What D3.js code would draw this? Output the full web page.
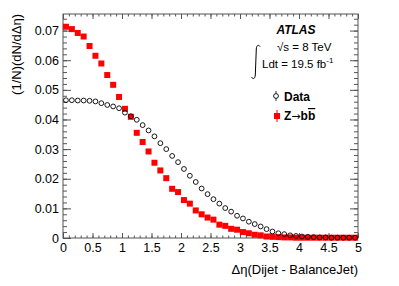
<!DOCTYPE html>
<html>

<head>
    <meta charset="utf-8">
    <style>
        body {
            margin: 0;
            background: #fff;
        }

        svg {
            font-family: 'Liberation Sans', Arial, sans-serif;
        }

        .tick text {
            font-size: 12.5px;
            fill: #000;
        }

        .tick line {
            stroke: #555;
        }

        .domain {
            display: none;
        }

        .axis-title {
            font-size: 13px;
        }
    </style>
</head>

<body>
    <svg width="399" height="286"></svg>

    <script src="https://d3js.org/d3.v7.min.js"></script>
    <script>
        // bin centres of delta eta (bin width 0.1)
        let binCenters = [
            0.05, 0.15, 0.25, 0.35, 0.45, 0.55, 0.65, 0.75, 0.85, 0.95,
            1.05, 1.15, 1.25, 1.35, 1.45, 1.55, 1.65, 1.75, 1.85, 1.95,
            2.05, 2.15, 2.25, 2.35, 2.45, 2.55, 2.65, 2.75, 2.85, 2.95,
            3.05, 3.15, 3.25, 3.35, 3.45, 3.55, 3.65, 3.75, 3.85, 3.95,
            4.05, 4.15, 4.25, 4.35, 4.45, 4.55, 4.65, 4.75, 4.85, 4.95]

        let dataValues = [
            0.0465, 0.0465, 0.0464, 0.0464, 0.0463, 0.0461, 0.0455, 0.0449, 0.0444, 0.0438,
            0.0423, 0.0411, 0.0399, 0.0381, 0.0363, 0.0343, 0.0320, 0.0300, 0.0277, 0.0256,
            0.0233, 0.0210, 0.0189, 0.0167, 0.0148, 0.0131, 0.0116, 0.0101, 0.0089, 0.0075,
            0.0066, 0.0055, 0.0047, 0.0039, 0.0030, 0.0022, 0.0016, 0.0013, 0.0009, 0.0007,
            0.0005, 0.0004, 0.0003, 0.0002, 0.0002, 0.0001, 0.0001, 0.0001, 0.0001, 0.0001]

        let zbbValues = [
            0.0713, 0.0705, 0.0692, 0.0680, 0.0648, 0.0615, 0.0589, 0.0550, 0.0517, 0.0476,
            0.0436, 0.0409, 0.0355, 0.0324, 0.0292, 0.0254, 0.0228, 0.0202, 0.0166, 0.0155,
            0.0128, 0.0116, 0.0093, 0.0080, 0.0069, 0.0062, 0.0045, 0.0041, 0.0031, 0.0028,
            0.0020, 0.0016, 0.0011, 0.0009, 0.0005, 0.0004, 0.0003, 0.0002, 0.0002, 0.0001,
            0.0001, 0.0001, 0.0001, 0.0001, 0.0001, 0.0001, 0.0001, 0.0001, 0.0001, 0.0001]

        let xTicks = [0, 0.5, 1, 1.5, 2, 2.5, 3, 3.5, 4, 4.5, 5]
        let yTicks = [0, 0.01, 0.02, 0.03, 0.04, 0.05, 0.06, 0.07]

        let margin = { top: 14, right: 41, bottom: 48, left: 63 }
        let width = 399
        let height = 286

        let svg = d3.select("svg")

        let x = d3.scaleLinear()
            .domain([0, 5])
            .range([margin.left, width - margin.right])

        let y = d3.scaleLinear()
            .domain([0, 0.0756])
            .range([height - margin.bottom, margin.top])

        let minorX = d3.range(0, 51).map(i => i / 10)
        let minorY = d3.range(0, 38).map(i => i * 0.002)

        // ticks pointing inwards on all four sides, ROOT style
        svg.append("g")
            .attr("class", "x axis")
            .attr("transform", `translate(0,${y(0)})`)
            .call(d3.axisBottom(x).tickValues(minorX).tickSize(-2.5).tickFormat(""))
        svg.append("g")
            .attr("class", "x axis")
            .attr("transform", `translate(0,${y(0)})`)
            .call(d3.axisBottom(x).tickValues(xTicks).tickSize(-5).tickPadding(5)
                .tickFormat(d3.format("")))

        svg.append("g")
            .attr("transform", `translate(0,${margin.top})`)
            .call(d3.axisTop(x).tickValues(minorX).tickSize(-2.5).tickFormat(""))
        svg.append("g")
            .attr("transform", `translate(0,${margin.top})`)
            .call(d3.axisTop(x).tickValues(xTicks).tickSize(-5).tickFormat(""))

        svg.append("g")
            .attr("class", "y axis")
            .attr("transform", `translate(${margin.left},0)`)
            .call(d3.axisLeft(y).tickValues(minorY).tickSize(-4).tickFormat(""))
        svg.append("g")
            .attr("class", "y axis")
            .attr("transform", `translate(${margin.left},0)`)
            .call(d3.axisLeft(y).tickValues(yTicks).tickSize(-8).tickPadding(4)
                .tickFormat(d => d == 0 ? "0" : d3.format(".2f")(d)))

        svg.append("g")
            .attr("transform", `translate(${width - margin.right},0)`)
            .call(d3.axisRight(y).tickValues(minorY).tickSize(-4).tickFormat(""))
        svg.append("g")
            .attr("transform", `translate(${width - margin.right},0)`)
            .call(d3.axisRight(y).tickValues(yTicks).tickSize(-8).tickFormat(""))

        // frame
        svg.append("rect")
            .attr("x", x(0))
            .attr("y", y(0.0756))
            .attr("width", x(5) - x(0))
            .attr("height", y(0) - y(0.0756))
            .attr("fill", "none")
            .attr("stroke", "#555")
            .attr("stroke-width", 1)

        // Z->bb squares first, data circles on top
        svg.append("g")
            .selectAll("rect")
            .data(binCenters)
            .join("rect")
            .attr("x", (d, i) => x(d) - 3)
            .attr("y", (d, i) => y(zbbValues[i]) - 3)
            .attr("width", 6)
            .attr("height", 6)
            .attr("fill", "#ff0000")

        svg.append("g")
            .selectAll("circle")
            .data(binCenters)
            .join("circle")
            .attr("cx", d => x(d))
            .attr("cy", (d, i) => y(dataValues[i]))
            .attr("r", 2.4)
            .attr("fill", "none")
            .attr("stroke", "#000")
            .attr("stroke-width", 0.9)

        // axis titles
        svg.append("text")
            .attr("class", "axis-title")
            .attr("x", x(5))
            .attr("y", 274)
            .attr("text-anchor", "end")
            .text("Δη(Dijet - BalanceJet)")

        svg.append("text")
            .attr("class", "axis-title")
            .attr("transform", `translate(21,${margin.top}) rotate(-90)`)
            .attr("text-anchor", "end")
            .text("(1/N)(dN/dΔη)")

        // ATLAS label
        svg.append("text")
            .attr("x", 296)
            .attr("y", 34)
            .attr("text-anchor", "middle")
            .style("font-size", "12px")
            .style("font-weight", "bold")
            .style("font-style", "italic")
            .text("ATLAS")

        svg.append("text")
            .attr("x", 277)
            .attr("y", 51)
            .style("font-size", "11.5px")
            .text("√s = 8 TeV")

        // thin integral sign, drawn like ROOT's TLatex one
        svg.append("path")
            .attr("d", "M260,46.5 C258.5,44.5 256.5,45 256.3,49 L255.3,75 C255,79 253,79.5 251.5,77")
            .attr("fill", "none")
            .attr("stroke", "#000")
            .attr("stroke-width", 1)

        let lumi = svg.append("text")
            .attr("x", 262)
            .attr("y", 68)
            .style("font-size", "11.5px")
        lumi.append("tspan").text("Ldt = 19.5 fb")
        lumi.append("tspan").attr("dy", -5).style("font-size", "8px").text("-1")

        // legend
        svg.append("line")
            .attr("x1", 276).attr("x2", 276)
            .attr("y1", 91).attr("y2", 101)
            .attr("stroke", "#000")
            .attr("stroke-width", 0.8)
        svg.append("circle")
            .attr("cx", 276).attr("cy", 96)
            .attr("r", 2.4)
            .attr("fill", "#fff")
            .attr("stroke", "#000")
            .attr("stroke-width", 0.9)
        svg.append("text")
            .attr("x", 284)
            .attr("y", 100.5)
            .style("font-size", "12px")
            .style("font-weight", "bold")
            .text("Data")

        svg.append("line")
            .attr("x1", 277).attr("x2", 277)
            .attr("y1", 110).attr("y2", 122)
            .attr("stroke", "#ff0000")
            .attr("stroke-width", 1)
        svg.append("rect")
            .attr("x", 274).attr("y", 113)
            .attr("width", 6).attr("height", 6)
            .attr("fill", "#ff0000")

        let zLabel = svg.append("text")
            .attr("x", 284)
            .attr("y", 120)
            .style("font-size", "12px")
            .style("font-weight", "bold")
        zLabel.append("tspan").text("Z")
        zLabel.append("tspan").style("font-weight", "normal").style("font-family", "DejaVu Sans")
            .style("font-size", "11px").text("→")
        zLabel.append("tspan").text("b")
        zLabel.append("tspan").style("text-decoration", "overline").text("b")
    </script>
</body>

</html>
